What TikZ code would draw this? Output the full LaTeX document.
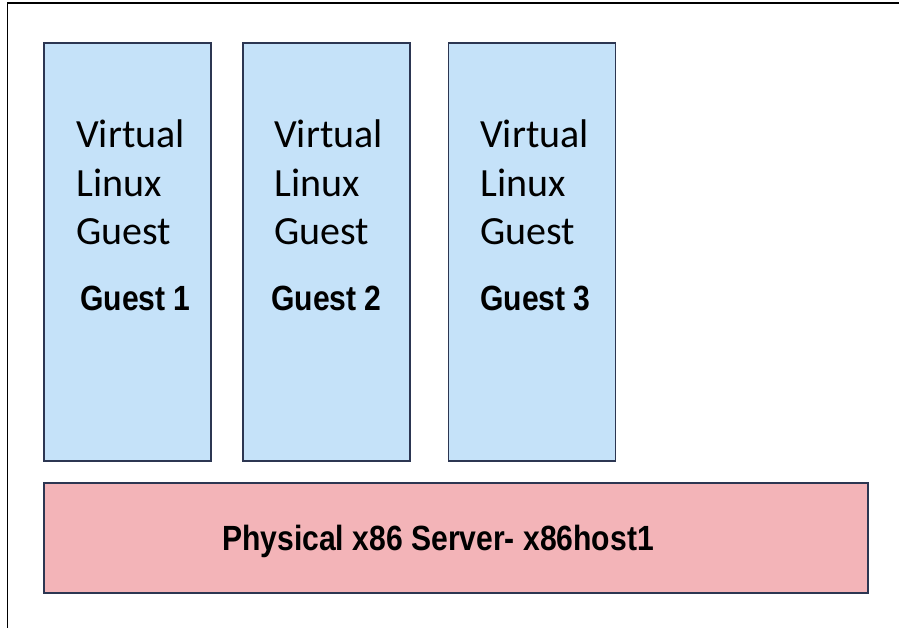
\documentclass[tikz,border=0pt]{standalone}
\usepackage{fontspec}
\setmainfont{Liberation Sans}
\newfontfamily\guestfont{Carlito}
\definecolor{guestblue}{RGB}{197,226,249}
\definecolor{hostpink}{RGB}{243,180,184}
\definecolor{edgenavy}{RGB}{44,54,82}
\newcommand{\narrow}[1]{\scalebox{0.86}[1]{#1}}
\tikzset{
  guestbox/.style={draw=edgenavy, line width=1.8pt, fill=guestblue,
    minimum width=167pt, minimum height=418pt, inner sep=0pt},
  hostbox/.style={draw=edgenavy, line width=1.8pt, fill=hostpink,
    minimum width=824pt, minimum height=110pt, inner sep=0pt},
  vmtext/.style={font=\guestfont\fontsize{40}{49}\selectfont, anchor=base west, inner sep=0pt},
  boldtext/.style={font=\bfseries\fontsize{35}{42}\selectfont, inner sep=0pt}
}

\begin{document}
\begin{tikzpicture}[x=1pt,y=-1pt]
  %%%%% START %%%%%
  \useasboundingbox (0,0) rectangle (899,628);
  \draw[line width=1.5pt] (7.5,628) -- (7.5,3) -- (899,3);

  % guests
  \foreach \n/\cx/\tx/\gx in {1/127.5/76/80, 2/326.5/274/271, 3/532/480/480}{
    \node[guestbox] (guest\n) at (\cx,252) {};
    \node[vmtext] (virt\n) at (\tx,148) {Virtual};
    \node[vmtext] (linux\n) at (\tx,197) {Linux};
    \node[vmtext] (gst\n) at (\tx,245) {Guest};
    \node[boldtext, anchor=base west] (name\n) at (\gx,310) {\narrow{Guest \n}};
  }

  % host
  \node[hostbox] (host) at (456,538) {};
  \node[boldtext, anchor=base] (hostname) at (438,550) {\narrow{Physical x86 Server- x86host1}};
  %%%%% END %%%%%
\end{tikzpicture}
\end{document}
